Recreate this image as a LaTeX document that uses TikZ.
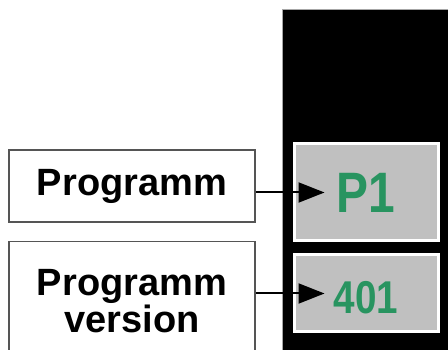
\documentclass[tikz,border=0pt]{standalone}
\usepackage{fontspec}
\setmainfont{Liberation Sans}
\usepackage{tikz}
\usetikzlibrary{positioning}
\usetikzlibrary{arrows.meta}
\definecolor{lcdgreen}{RGB}{40,148,96}
\definecolor{lcdgray}{RGB}{192,192,192}
\definecolor{framegray}{RGB}{85,85,85}

\begin{document}
\begin{tikzpicture}[x=1pt, y=-1pt, node distance=18pt,
    label/.style={draw=framegray, line width=1.5pt, fill=white, inner sep=0pt,
      minimum width=246pt, align=center, font=\bfseries\fontsize{38}{37}\selectfont},
    field/.style={draw=white, line width=3pt, fill=lcdgray, inner sep=0pt,
      minimum width=144pt, text=lcdgreen},
    pointer/.style={line width=2pt, -{Triangle[length=26pt,width=20pt]}}]
      \useasboundingbox (0,0) rectangle (448,350);
      \clip (0,0) rectangle (448,350);
      % display panel
      \draw[fill=black, draw=gray!70, line width=1pt] (282,10) rectangle (452,354);
      \node(p1) at (366,192.5) [field, minimum height=97pt,
        font=\bfseries\fontsize{57}{57}\selectfont] {\scalebox{0.84}[1]{P1}};
      \node(ver) [field, below=11pt of p1, minimum height=77pt, text height=41pt,
        font=\bfseries\fontsize{46}{46}\selectfont] {\scalebox{0.84}[1]{401}};
      \node(prog) at (132,186) [label, minimum height=72pt] {Programm};
      \node(progver) [label, below=of prog, minimum height=120pt] {Programm\\version};

      \draw[pointer] (prog.east |- p1.west) -- ([xshift=32pt]p1.west);
      \draw[pointer] (progver.east |- ver.west) -- ([xshift=32pt]ver.west);
    \end{tikzpicture}
\end{document}
